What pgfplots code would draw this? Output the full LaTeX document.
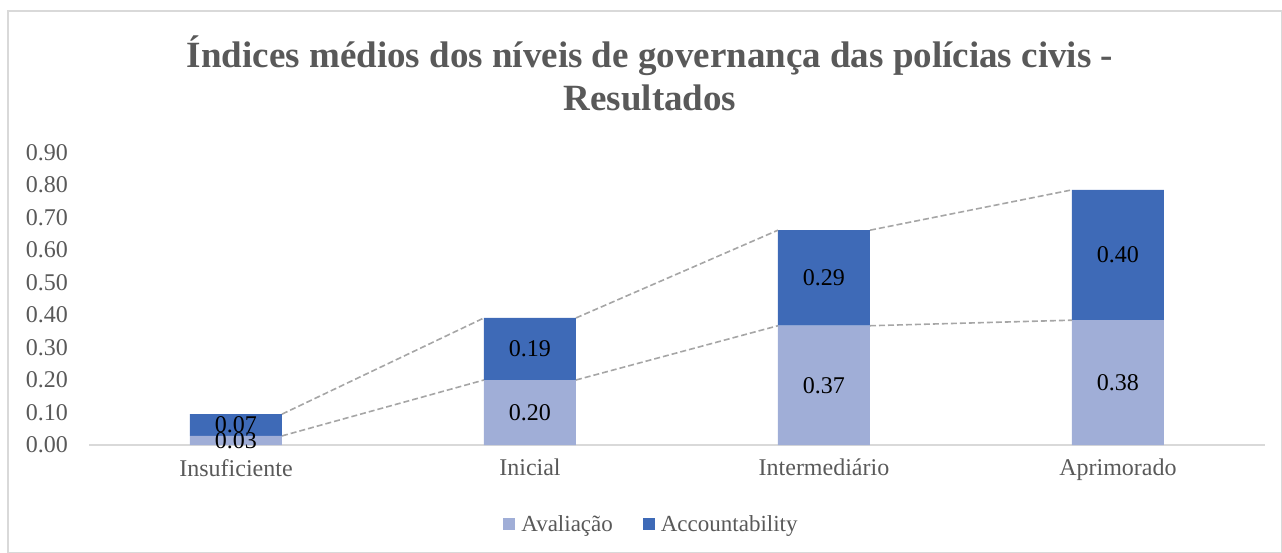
\documentclass[border=0pt]{standalone}
\usepackage{pgfplots}
\usepackage{pgfplotstable}
\pgfplotsset{compat=1.18}
\usepackage{fontspec}
\setmainfont{Liberation Serif}
\definecolor{txtgray}{RGB}{89,89,89}
\definecolor{avcol}{RGB}{160,174,215}
\definecolor{accol}{RGB}{62,106,183}
\definecolor{linegray}{RGB}{166,166,166}
\definecolor{axgray}{RGB}{217,217,217}
\pgfplotstableread{
x av acc
0 0.028 0.067
1 0.200 0.191
2 0.367 0.294
3 0.384 0.401
}\datatab
\begin{document}
\begin{tikzpicture}[x=1pt,y=1pt]
\useasboundingbox (0,0) rectangle (1282,-553);
\draw[axgray,line width=1.5pt] (8,-11) rectangle (1281.5,-552.5);
\node[anchor=base,font=\fontsize{37}{42}\selectfont\bfseries,text=txtgray] at (650,-68) {Índices médios dos níveis de governança das polícias civis -};
\node[anchor=base,font=\fontsize{37}{42}\selectfont\bfseries,text=txtgray] at (650,-111) {Resultados};
\begin{axis}[
  at={(89pt,-445pt)}, anchor=south west,
  scale only axis, width=1176pt, height=292.5pt,
  xmin=-0.5, xmax=3.5, ymin=0, ymax=0.9,
  ybar stacked, bar width=92pt,
  axis x line=bottom, axis y line=left,
  x axis line style={draw=axgray,line width=1.5pt,-},
  y axis line style={draw=none},
  major tick length=0pt,
  xtick={0,1,2,3},
  xticklabels={Insuficiente,Inicial,Intermediário,Aprimorado},
  xticklabel style={font=\fontsize{24}{28}\selectfont,text=txtgray,anchor=north,inner sep=0pt,yshift=-14pt},
  ytick={0,0.1,0.2,0.3,0.4,0.5,0.6,0.7,0.8,0.9},
  yticklabel style={font=\fontsize{24}{28}\selectfont,text=txtgray,anchor=east,inner sep=0pt,xshift=-21pt,
    /pgf/number format/.cd,fixed,fixed zerofill,precision=2,assume math mode=true},
  legend style={at={(0.48,-0.27)},anchor=center,draw=none,fill=none,
    legend columns=2,font=\fontsize{23}{26}\selectfont,text=txtgray,
    /tikz/every even column/.append style={column sep=24pt},
    nodes={inner xsep=6pt}},
  legend image code/.code={\fill[#1,draw=none] (0pt,-6pt) rectangle (12pt,6pt);},
  nodes near coords={\pgfmathprintnumber[fixed,fixed zerofill,precision=2,assume math mode=true]{\pgfplotspointmeta}},
  every node near coord/.append style={font=\fontsize{24}{28}\selectfont,text=black,anchor=center},
  point meta=explicit,
]
\addplot[fill=avcol,draw=none]
  table[x=x,y=av,meta=av]{\datatab};
\addlegendentry{Avaliação}
\addplot[fill=accol,draw=none]
  table[x=x,y=acc,meta=acc]{\datatab};
\addlegendentry{Accountability}
\end{axis}
\begin{axis}[
  at={(89pt,-445pt)}, anchor=south west,
  scale only axis, width=1176pt, height=292.5pt,
  xmin=-0.5, xmax=3.5, ymin=0, ymax=0.9,
  hide axis, unbounded coords=jump,
]
\addplot[linegray,line width=1.6pt,dash pattern=on 6pt off 3pt] coordinates {
  (0.1565,0.028) (0.8435,0.200) (1,nan)
  (1.1565,0.200) (1.8435,0.367) (2,nan)
  (2.1565,0.367) (2.8435,0.384)
};
\addplot[linegray,line width=1.6pt,dash pattern=on 6pt off 3pt] coordinates {
  (0.1565,0.095) (0.8435,0.391) (1,nan)
  (1.1565,0.391) (1.8435,0.661) (2,nan)
  (2.1565,0.661) (2.8435,0.785)
};
\end{axis}
\end{tikzpicture}
\end{document}
